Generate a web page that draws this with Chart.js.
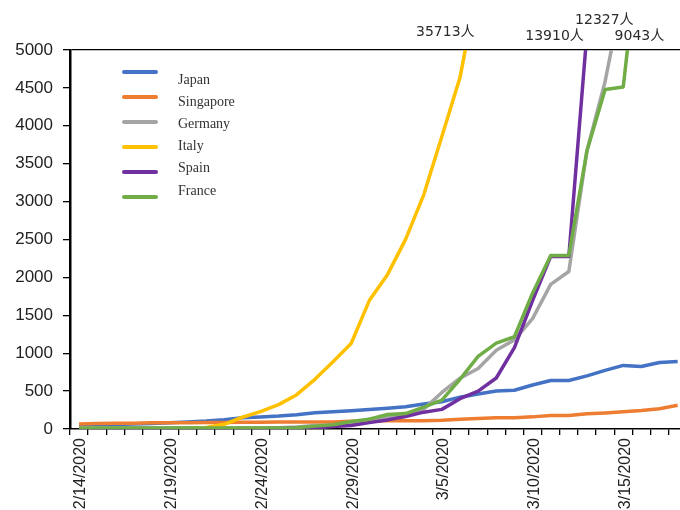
<!DOCTYPE html>
<html>
<head>
<meta charset="utf-8">
<script src="https://cdn.jsdelivr.net/npm/chart.js@4.4.1/dist/chart.umd.min.js"></script>
<style>
  html, body { margin: 0; padding: 0; background: #fff; overflow: hidden; }
  #wrap { position: relative; width: 700px; height: 510px; }
</style>
</head>
<body>
<div id="wrap"><canvas id="chart"></canvas></div>
<script>
const dates = [
  '2/14/2020', '2/15/2020', '2/16/2020', '2/17/2020', '2/18/2020', '2/19/2020', '2/20/2020',
  '2/21/2020', '2/22/2020', '2/23/2020', '2/24/2020', '2/25/2020', '2/26/2020', '2/27/2020',
  '2/28/2020', '2/29/2020', '3/1/2020', '3/2/2020', '3/3/2020', '3/4/2020', '3/5/2020',
  '3/6/2020', '3/7/2020', '3/8/2020', '3/9/2020', '3/10/2020', '3/11/2020', '3/12/2020',
  '3/13/2020', '3/14/2020', '3/15/2020', '3/16/2020', '3/17/2020', '3/18/2020'
];

const japan = [29, 43, 59, 66, 74, 84, 94, 105, 122, 147, 159, 170, 189, 214, 228, 241, 256,
  274, 293, 331, 360, 420, 461, 502, 511, 581, 639, 639, 701, 773, 839, 825, 878, 889];
const singapore = [67, 72, 75, 77, 81, 84, 84, 85, 85, 89, 89, 91, 93, 93, 93, 102, 106,
  108, 110, 110, 117, 130, 138, 150, 150, 160, 178, 178, 200, 212, 226, 243, 266, 313];
const germany = [16, 16, 16, 16, 16, 16, 16, 16, 16, 16, 16, 17, 27, 46, 48, 79, 130,
  159, 196, 262, 482, 670, 799, 1040, 1176, 1457, 1908, 2078, 3675, 4585, 5795, 7272, 9257, 12327];
const italy = [3, 3, 3, 3, 3, 3, 3, 20, 62, 155, 229, 322, 453, 655, 888, 1128, 1694,
  2036, 2502, 3089, 3858, 4636, 5883, 7375, 9172, 10149, 12462, 12462, 17660, 21157, 24747, 27980, 31506, 35713];
const spain = [2, 2, 2, 2, 2, 2, 2, 2, 2, 2, 2, 6, 13, 15, 32, 45, 84,
  120, 165, 222, 259, 400, 500, 673, 1073, 1695, 2277, 2277, 5232, 6391, 7798, 9942, 11748, 13910];
const france = [11, 12, 12, 12, 12, 12, 12, 12, 12, 12, 12, 14, 18, 38, 57, 100, 130,
  191, 204, 288, 380, 656, 957, 1134, 1217, 1792, 2289, 2289, 3672, 4480, 4513, 6650, 7652, 9043];

const seriesNames = ['Japan', 'Singapore', 'Germany', 'Italy', 'Spain', 'France'];
const seriesValues = [japan, singapore, germany, italy, spain, france];
const seriesColors = ['#4472C4', '#ED7D31', '#A5A5A5', '#FFC000', '#7030A0', '#70AD47'];

const yMax = 5000;

// where the "N人" callouts sit relative to the point a line leaves the top of the plot
const calloutOffsets = {
  Italy: [-20, -18],
  Spain: [-31, -14],
  Germany: [-7, -30],
  France: [12, -14],
};

const legendPlugin = {
  id: 'sideLegend',
  afterDraw(chart) {
    const { ctx } = chart;
    ctx.save();
    chart.data.datasets.forEach((ds, i) => {
      const ly = 72 + i * 25;
      ctx.strokeStyle = ds.borderColor;
      ctx.lineWidth = 4;
      ctx.lineCap = 'round';
      ctx.beginPath();
      ctx.moveTo(124, ly);
      ctx.lineTo(156, ly);
      ctx.stroke();
      ctx.fillStyle = '#333';
      ctx.font = '14px "Liberation Serif"';
      ctx.textBaseline = 'middle';
      ctx.textAlign = 'left';
      ctx.fillText(ds.label, 178, 80 + i * 22.2);
    });
    ctx.restore();
  },
};

const calloutPlugin = {
  id: 'topCallouts',
  afterDraw(chart) {
    const { ctx } = chart;
    const xScale = chart.scales.x;
    const top = chart.chartArea.top;
    ctx.save();
    ctx.font = '14px "DejaVu Sans", "Noto Sans CJK SC"';
    ctx.fillStyle = '#2b2b2b';
    ctx.textAlign = 'center';
    ctx.textBaseline = 'middle';
    chart.data.datasets.forEach((ds) => {
      const off = calloutOffsets[ds.label];
      if (!off) return;
      const idx = ds.data.findIndex((v) => v > yMax);
      if (idx < 1) return;
      const v0 = ds.data[idx - 1];
      const v1 = ds.data[idx];
      const x0 = xScale.getPixelForValue(idx - 1);
      const x1 = xScale.getPixelForValue(idx);
      const xc = x0 + (x1 - x0) * (yMax - v0) / (v1 - v0);
      ctx.fillText(ds.data[ds.data.length - 1] + '人', xc + off[0], top + off[1]);
    });
    ctx.restore();
  },
};

new Chart(document.getElementById('chart'), {
  type: 'line',
  data: {
    labels: dates,
    datasets: seriesNames.map((name, i) => ({
      label: name,
      data: seriesValues[i],
      borderColor: seriesColors[i],
      backgroundColor: seriesColors[i],
      borderWidth: 3.5,
      pointRadius: 0,
      tension: 0,
      borderJoinStyle: 'round',
      order: seriesNames.length - i,
    })),
  },
  options: {
    responsive: true,
    maintainAspectRatio: false,
    animation: false,
    layout: { padding: { top: 50, right: 9, left: 0, bottom: 0 } },
    plugins: {
      legend: { display: false },
      tooltip: { enabled: false },
    },
    scales: {
      x: {
        offset: true,
        grid: {
          offset: true,
          drawOnChartArea: false,
          tickLength: 6,
          tickColor: '#000',
          lineWidth: 1.3,
        },
        border: { color: '#000', width: 1.5 },
        ticks: {
          autoSkip: false,
          minRotation: 90,
          maxRotation: 90,
          padding: 3,
          labelOffset: 2,
          color: '#222',
          font: { family: 'Liberation Sans', size: 16 },
          callback: (v, i) => (i % 5 === 0 ? dates[i] : ''),
        },
        afterFit: (s) => { s.height = 81; },
      },
      y: {
        min: 0,
        max: yMax,
        ticks: {
          stepSize: 500,
          padding: 10,
          color: '#222',
          font: { family: 'Liberation Sans', size: 17 },
          callback: (v) => String(v),
        },
        grid: {
          color: (c) => (c.tick && c.tick.value === yMax ? '#000' : 'rgba(0,0,0,0)'),
          tickColor: '#000',
          tickLength: 7,
          lineWidth: 1.3,
        },
        border: { color: '#000', width: 2.5 },
        afterFit: (s) => { s.width = 70; },
      },
    },
  },
  plugins: [legendPlugin, calloutPlugin],
});
</script>
</body>
</html>
